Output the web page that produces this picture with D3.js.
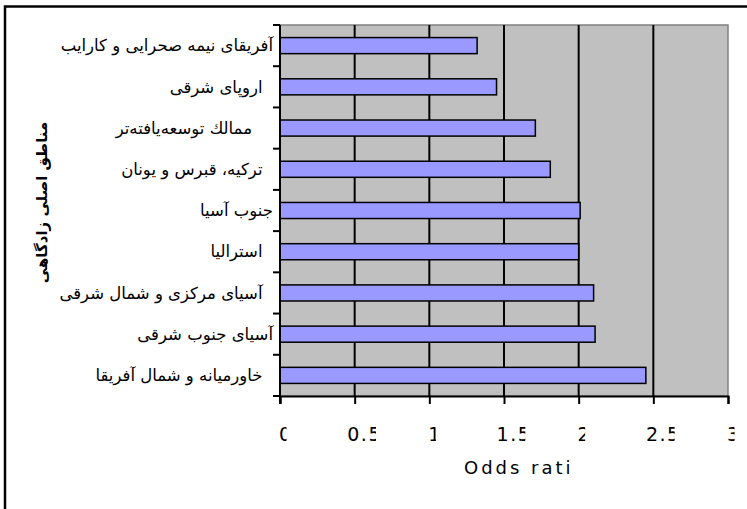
<!DOCTYPE html>
<html>
<head>
<meta charset="utf-8">
<script src="https://cdn.jsdelivr.net/npm/d3@7"></script>
<style>
  html, body { margin: 0; padding: 0; background: #fff; }
  svg { display: block; }
</style>
</head>
<body>
<svg id="chart" width="747" height="509"></svg>
<script>
(function drawChart() {
  // categories top to bottom (trailing spaces are kept as in the source sheet)
  const REGIONS = [
    'آفریقای نیمه صحرایی و کارایب',
    'اروپای شرقی  ',
    'ممالك توسعه‌یافته‌تر    ',
    'ترکیه، قبرس و یونان  ',
    'جنوب آسیا',
    'استرالیا  ',
    'آسیای مرکزی و شمال شرقی  ',
    'آسیای جنوب شرقی',
    'خاورمیانه و شمال آفریقا  '
  ];
  const ODDS = [1.32, 1.45, 1.71, 1.81, 2.01, 2.00, 2.10, 2.11, 2.45];
  const X_TICKS = [0, 0.5, 1, 1.5, 2, 2.5, 3];
  const X_TICK_LABELS = ['0', '0.5', '1', '1.5', '2', '2.5', '3'];
  const X_TITLE = 'Odds ratio';
  const Y_TITLE = 'مناطق اصلی زادگاهی';

  const W = 747, H = 509;
  const margin = { top: 25, right: 19, bottom: 113, left: 280 };
  const svg = d3.select('#chart');
  const defs = svg.append('defs');

  // outer chart frame (right and bottom edges fall outside the picture)
  svg.append('rect')
    .attr('x', 5).attr('y', 6.5)
    .attr('width', W + 20).attr('height', H + 20)
    .attr('fill', '#fff')
    .attr('stroke', '#000')
    .attr('stroke-width', 2.5);

  const x = d3.scaleLinear()
    .domain([0, 3])
    .range([margin.left, W - margin.right]);

  const y = d3.scaleBand()
    .domain(REGIONS)
    .range([margin.top, H - margin.bottom])
    .paddingInner(0.61)
    .paddingOuter(0.305);

  const yFull = d3.scaleBand()
    .domain(REGIONS)
    .range([margin.top, H - margin.bottom]);

  const x0 = x(0), x1 = x(3);
  const y0 = margin.top, y1 = H - margin.bottom;

  // plot area
  svg.append('rect')
    .attr('x', x0).attr('y', y0)
    .attr('width', x1 - x0).attr('height', y1 - y0)
    .attr('fill', '#c0c0c0')
    .attr('stroke', '#808080')
    .attr('stroke-width', 1.5);

  // vertical gridlines
  svg.append('g')
    .selectAll('line')
    .data(X_TICKS.slice(1, -1))
    .join('line')
      .attr('x1', d => x(d)).attr('x2', d => x(d))
      .attr('y1', y0).attr('y2', y1)
      .attr('stroke', '#000')
      .attr('stroke-width', 2);

  // bars
  svg.append('g')
    .selectAll('rect')
    .data(ODDS)
    .join('rect')
      .attr('x', x0)
      .attr('y', (d, i) => y(REGIONS[i]))
      .attr('width', d => x(d) - x0)
      .attr('height', y.bandwidth())
      .attr('fill', '#9999ff')
      .attr('stroke', '#000')
      .attr('stroke-width', 1.5);

  // y axis: line + ticks between categories
  const yAxis = svg.append('g');
  yAxis.append('line')
    .attr('x1', x0).attr('x2', x0)
    .attr('y1', y0).attr('y2', y1 + 8)
    .attr('stroke', '#000').attr('stroke-width', 2);
  const bounds = REGIONS.map(r => yFull(r)).concat([y1]);
  yAxis.selectAll('line.tick')
    .data(bounds)
    .join('line')
      .attr('class', 'tick')
      .attr('x1', x0 - 7).attr('x2', x0)
      .attr('y1', d => d).attr('y2', d => d)
      .attr('stroke', '#000').attr('stroke-width', 2);

  yAxis.selectAll('text')
    .data(REGIONS)
    .join('text')
      .attr('xml:space', 'preserve')
      .style('white-space', 'pre')
      .attr('x', x0 - 7)
      .attr('y', d => yFull(d) + yFull.bandwidth() / 2)
      .attr('dy', '0.35em')
      .attr('text-anchor', 'end')
      .attr('font-family', "'DejaVu Sans', sans-serif")
      .attr('font-size', '16.5px')
      .attr('fill', '#000')
      .text(d => d);

  // x axis
  svg.append('g')
    .attr('transform', `translate(0,${y1})`)
    .call(d3.axisBottom(x).tickValues(X_TICKS).tickSize(8).tickFormat(''))
    .call(g => g.select('.domain').attr('stroke', '#000').attr('stroke-width', 2))
    .call(g => g.selectAll('.tick line').attr('stroke', '#000').attr('stroke-width', 2));

  // tick labels, cut off on the right as in the original picture
  const labels = svg.append('g');
  X_TICKS.forEach((v, i) => {
    const t = labels.append('text')
      .attr('y', 441)
      .attr('font-family', "'DejaVu Sans', sans-serif")
      .attr('font-size', '19px')
      .attr('letter-spacing', '1.5px')
      .attr('fill', '#000')
      .text(X_TICK_LABELS[i]);
    const w = t.node().getComputedTextLength();
    const boxW = w - 6;
    const left = x(v) + 3 - w * 0.3;
    const id = 'clipTick' + i;
    defs.append('clipPath').attr('id', id)
      .append('rect')
        .attr('x', left).attr('y', 415)
        .attr('width', boxW).attr('height', 35);
    t.attr('x', left).attr('clip-path', `url(#${id})`);
  });

  // x title
  defs.append('clipPath').attr('id', 'clipTitle')
    .append('rect')
      .attr('x', 460).attr('y', 450)
      .attr('width', 111).attr('height', 35);
  svg.append('text')
    .attr('x', 464)
    .attr('y', 474)
    .attr('font-family', "'DejaVu Sans', sans-serif")
    .attr('font-size', '18px')
    .attr('letter-spacing', '3px')
    .attr('fill', '#000')
    .attr('clip-path', 'url(#clipTitle)')
    .text(X_TITLE);

  // y title, rotated so the first word sits at the top
  svg.append('text')
    .attr('transform', `translate(42,${(y0 + y1) / 2 - 8}) rotate(-90)`)
    .attr('text-anchor', 'middle')
    .attr('dy', '0.35em')
    .attr('font-family', "'DejaVu Sans', sans-serif")
    .attr('font-size', '15px')
    .attr('font-weight', 'bold')
    .attr('fill', '#000')
    .text(Y_TITLE);
})();
</script>
</body>
</html>
